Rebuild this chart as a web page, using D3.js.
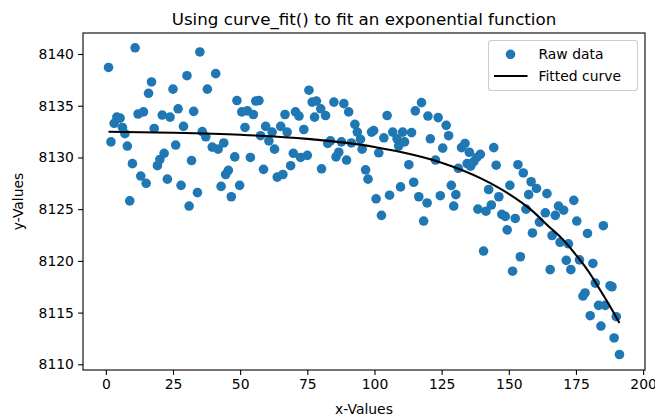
<!DOCTYPE html>
<html>
<head>
<meta charset="utf-8">
<script src="https://cdn.jsdelivr.net/npm/d3@7"></script>
<style>
  html, body { margin: 0; padding: 0; background: #fff; }
  svg { display: block; font-family: "DejaVu Sans", sans-serif; }
</style>
</head>
<body>
<svg id="chart" width="655" height="419"></svg>
<script>
// ---- data ----
const xValues = [1.0,1.9,3.1,4.1,5.3,6.2,7.1,8.0,8.9,9.9,10.9,12.0,13.0,14.0,15.0,15.9,17.0,18.0,19.2,20.1,
  21.0,21.7,22.9,23.9,25.0,26.0,26.9,28.0,28.9,30.2,31.0,31.9,32.7,34.1,35.0,35.9,37.2,37.8,39.6,40.9,
  41.8,42.9,43.9,44.6,45.6,46.7,48.0,48.8,49.8,50.6,51.8,52.7,53.8,54.9,55.8,57.0,57.6,58.7,59.5,60.7,
  61.9,62.8,63.8,65.1,65.9,66.7,67.5,68.8,69.8,70.6,71.9,72.5,73.7,75.0,75.6,76.8,77.7,78.4,80.0,80.3,
  81.8,82.6,83.6,84.9,85.7,86.7,87.7,88.6,89.6,90.4,91.4,92.7,93.6,94.8,95.4,96.7,97.6,98.9,99.7,100.6,
  101.6,102.6,103.5,104.7,105.6,106.8,108.4,109.0,109.7,110.5,111.2,112.8,113.8,114.6,115.2,116.5,117.5,118.3,119.6,119.9,
  120.8,122.7,123.7,124.5,125.4,126.7,127.6,128.6,129.5,130.3,131.2,132.4,133.7,134.5,135.3,135.8,137.0,138.1,139.4,138.5,
  140.6,141.5,142.5,143.5,144.4,145.3,146.3,147.4,148.7,149.4,150.4,151.4,152.4,153.4,154.3,155.4,156.4,157.4,158.3,158.8,
  160.3,161.4,163.6,164.2,165.4,166.1,167.3,168.5,169.1,170.4,171.4,172.2,173.1,174.2,175.3,176.3,177.6,178.4,179.3,180.3,
  181.3,182.2,183.4,184.3,185.2,185.9,187.7,188.4,189.2,190.0,191.2];
const yValues = [8138.7,8131.5,8133.3,8133.9,8133.8,8132.9,8132.3,8131.1,8125.8,8129.4,8140.6,8134.2,8128.2,8134.4,8127.5,8136.2,8137.3,8132.8,8129.2,8129.8,
  8134.1,8130.4,8127.9,8133.9,8136.6,8131.2,8134.7,8127.3,8133.0,8137.9,8125.3,8129.7,8134.45,8126.6,8140.2,8132.5,8132.0,8136.6,8131.0,8138.1,
  8130.8,8127.2,8131.4,8128.35,8128.75,8126.2,8130.05,8135.5,8127.3,8134.4,8132.9,8134.5,8130.0,8134.15,8135.45,8135.5,8132.1,8128.85,8133.0,8131.6,
  8132.45,8130.8,8128.1,8133.0,8128.35,8134.15,8132.45,8129.2,8130.4,8134.4,8134.0,8130.0,8132.7,8130.2,8136.5,8135.35,8133.9,8135.45,8134.7,8128.9,
  8134.05,8131.35,8131.6,8135.35,8130.05,8130.5,8131.5,8135.2,8129.75,8134.4,8131.4,8133.2,8132.45,8131.75,8130.8,8128.8,8127.9,8132.45,8132.6,8126.0,
  8130.45,8124.4,8131.9,8134.05,8126.35,8132.45,8131.8,8131.1,8127.15,8132.45,8131.5,8129.3,8132.4,8127.6,8134.5,8126.2,8135.3,8123.85,8125.6,8134.0,
  8131.8,8129.75,8133.85,8126.3,8130.9,8133.1,8132.1,8127.3,8125.3,8126.4,8128.95,8130.95,8131.35,8129.4,8130.5,8129.15,8129.6,8130.0,8130.3,8125.0,
  8120.95,8124.8,8126.9,8125.4,8130.95,8129.25,8126.2,8124.5,8124.3,8123.0,8127.3,8119.0,8124.1,8129.3,8120.4,8128.5,8125.0,8126.4,8127.65,8122.7,
  8127.0,8123.75,8124.65,8126.5,8119.15,8122.45,8124.4,8125.3,8121.8,8124.9,8120.05,8121.65,8119.15,8125.85,8123.85,8120.1,8116.6,8116.9,8122.65,8114.7,
  8119.75,8117.85,8115.7,8113.7,8123.4,8115.7,8117.6,8117.5,8112.55,8114.6,8110.95];

// fitted curve, sampled from the reference line
const fitX = [1, 25, 50, 75, 100, 125, 140, 150, 158, 165, 170, 174, 180, 183, 187, 191.2];
const fitY = [8132.49, 8132.39, 8132.19, 8131.79, 8131.01, 8129.49, 8127.93, 8126.48, 8125.0, 8123.3, 8122.1, 8120.9, 8118.85, 8117.6, 8115.9, 8114.0];

const xTicks = [0, 25, 50, 75, 100, 125, 150, 175, 200];
const yTicks = [8110, 8115, 8120, 8125, 8130, 8135, 8140];

const titleText = "Using curve_fit() to fit an exponential function";
const xLabel = "x-Values";
const yLabel = "y-Values";
const legendLabels = ["Raw data", "Fitted curve"];

// ---- layout ----
const W = 655, H = 419;
const plot = { left: 83, right: 645, top: 33, bottom: 370 };
const blue = "#1f77b4";
const fs = 13.9;

const svg = d3.select("#chart");

const x = d3.scaleLinear().domain([-8.5, 200.7]).range([plot.left, plot.right]);
const y = d3.scaleLinear().domain([8109.45, 8142.03]).range([plot.bottom, plot.top]);

// points
svg.append("g")
  .selectAll("circle")
  .data(xValues.map((d, i) => [d, yValues[i]]))
  .join("circle")
  .attr("cx", d => x(d[0]))
  .attr("cy", d => y(d[1]))
  .attr("r", 4.8)
  .attr("fill", blue);

// fitted curve
const line = d3.line().x(d => x(d[0])).y(d => y(d[1])).curve(d3.curveMonotoneX);
svg.append("path")
  .datum(fitX.map((d, i) => [d, fitY[i]]))
  .attr("d", line)
  .attr("fill", "none")
  .attr("stroke", "#000")
  .attr("stroke-width", 2.1);

// axes
const xAxis = d3.axisBottom(x).tickValues(xTicks).tickSize(4.9).tickPadding(4.2).tickFormat(d3.format("d"));
const yAxis = d3.axisLeft(y).tickValues(yTicks).tickSize(4.9).tickPadding(4.2).tickFormat(d3.format("d"));

const gx = svg.append("g").attr("transform", `translate(0,${plot.bottom})`).call(xAxis);
const gy = svg.append("g").attr("transform", `translate(${plot.left},0)`).call(yAxis);
[gx, gy].forEach(g => {
  g.select(".domain").remove();
  g.selectAll(".tick line").attr("stroke", "#000").attr("stroke-width", 1.1);
  g.selectAll(".tick text").attr("fill", "#000").style("font-size", fs + "px").style("font-family", "DejaVu Sans");
});

// frame (spines)
svg.append("rect")
  .attr("x", plot.left).attr("y", plot.top)
  .attr("width", plot.right - plot.left).attr("height", plot.bottom - plot.top)
  .attr("fill", "none").attr("stroke", "#000").attr("stroke-width", 1.1);

// title & labels
svg.append("text")
  .attr("x", (plot.left + plot.right) / 2).attr("y", 24.5)
  .attr("text-anchor", "middle").style("font-size", "16.7px").attr("fill", "#000")
  .text(titleText);

svg.append("text")
  .attr("x", (plot.left + plot.right) / 2).attr("y", 414)
  .attr("text-anchor", "middle").style("font-size", fs + "px").attr("fill", "#000")
  .text(xLabel);

svg.append("text")
  .attr("transform", `translate(23,${(plot.top + plot.bottom) / 2}) rotate(-90)`)
  .attr("text-anchor", "middle").style("font-size", fs + "px").attr("fill", "#000")
  .text(yLabel);

// legend
const lg = svg.append("g");
lg.append("rect")
  .attr("x", 488.5).attr("y", 40.5).attr("width", 149).attr("height", 50)
  .attr("rx", 3).attr("fill", "#fff").attr("fill-opacity", 0.8)
  .attr("stroke", "#cccccc").attr("stroke-width", 1.1);
lg.append("circle").attr("cx", 510.5).attr("cy", 54.3).attr("r", 4.8).attr("fill", blue);
lg.append("line").attr("x1", 494).attr("x2", 527.5).attr("y1", 76).attr("y2", 76)
  .attr("stroke", "#000").attr("stroke-width", 2.1);
lg.selectAll("text.lab").data(legendLabels).join("text")
  .attr("class", "lab")
  .attr("x", 538.5).attr("y", (d, i) => 54.3 + i * 21.8)
  .attr("dy", "0.36em")
  .style("font-size", fs + "px").attr("fill", "#000")
  .text(d => d);
</script>
</body>
</html>
